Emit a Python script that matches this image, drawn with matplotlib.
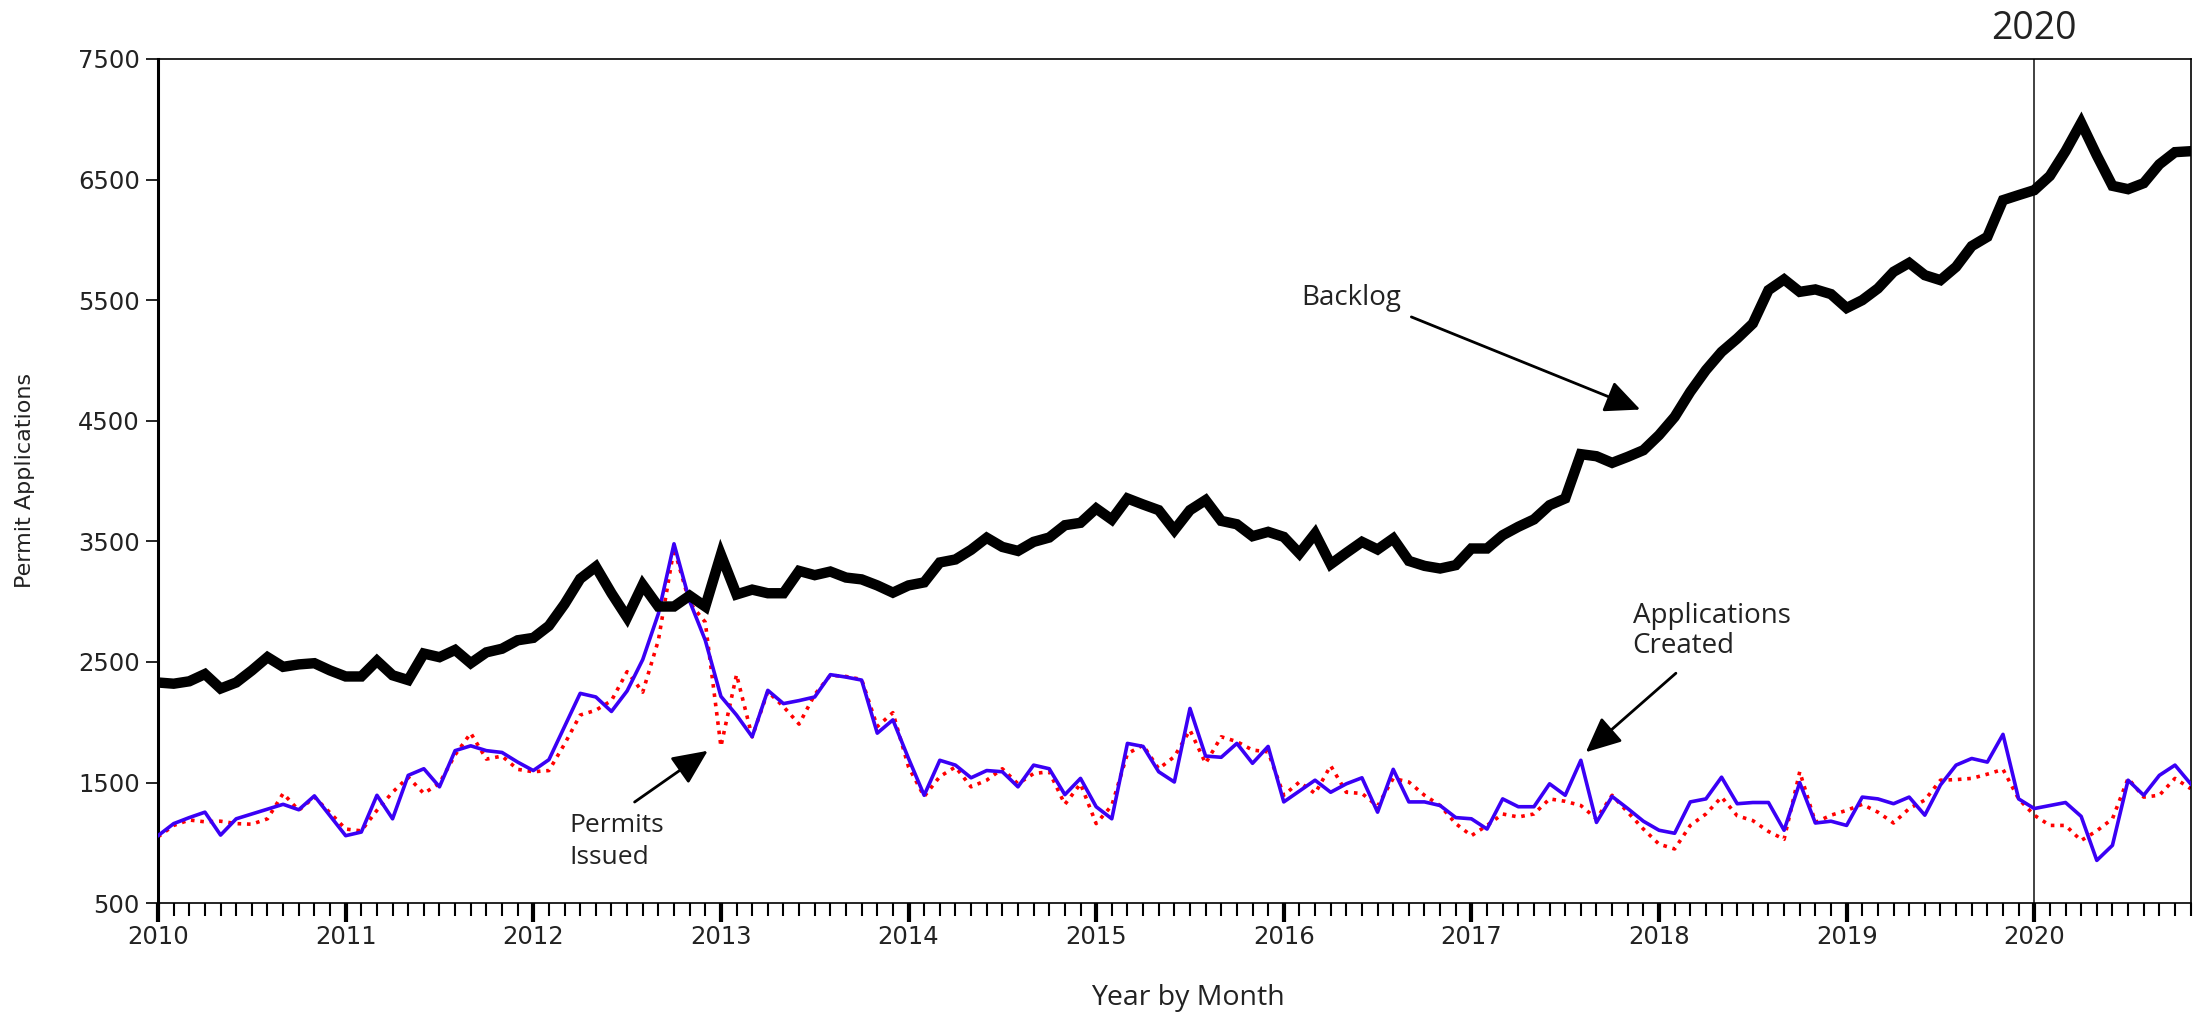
import numpy as np
import matplotlib
matplotlib.use("Agg")
import matplotlib.pyplot as plt
from matplotlib.ticker import MultipleLocator

# monthly values, Jan 2010 .. Nov 2020
backlog = [2330, 2320, 2340, 2400, 2280, 2330, 2430, 2540, 2460, 2480, 2490, 2430,
           2380, 2380, 2510, 2390, 2350, 2570, 2540, 2600, 2490, 2580, 2610, 2680,
           2700, 2800, 2980, 3190, 3290, 3070, 2870, 3140, 2960, 2960, 3050, 2960,
           3390, 3060, 3100, 3070, 3070, 3255, 3220, 3250, 3200, 3185, 3135, 3075,
           3135, 3160, 3325, 3350, 3430, 3530, 3454, 3421, 3496, 3532, 3634, 3654,
           3773, 3681, 3856, 3806, 3759, 3593, 3759, 3842, 3670, 3642, 3543, 3579,
           3537, 3400, 3565, 3311, 3405, 3496, 3433, 3524, 3338, 3297, 3275, 3303,
           3441, 3441, 3551, 3621, 3682, 3800, 3856, 4223, 4206, 4151, 4201, 4256,
           4381, 4532, 4740, 4920, 5071, 5182, 5306, 5583, 5672, 5569, 5589, 5550,
           5435, 5500, 5597, 5735, 5809, 5707, 5666, 5776, 5948, 6025, 6329, 6371,
           6412, 6530, 6735, 6970, 6700, 6448, 6420, 6470, 6626, 6727, 6735]

created = [1060, 1160, 1210, 1255, 1065, 1200, 1240, 1280, 1320, 1275, 1390, 1225,
           1060, 1090, 1395, 1200, 1560, 1615, 1465, 1765, 1805, 1765, 1750, 1670,
           1600, 1690, 1965, 2240, 2210, 2090, 2260, 2520, 2900, 3480, 3005, 2680,
           2215, 2060, 1880, 2265, 2155, 2180, 2210, 2395, 2375, 2350, 1910, 2020,
           1700, 1395, 1685, 1645, 1540, 1600, 1590, 1465, 1645, 1615, 1400, 1535,
           1300, 1200, 1825, 1800, 1590, 1505, 2115, 1720, 1710, 1825, 1660, 1800,
           1340, 1430, 1520, 1420, 1490, 1540, 1255, 1610, 1340, 1340, 1310, 1210,
           1200, 1115, 1365, 1300, 1300, 1490, 1395, 1685, 1170, 1385, 1285, 1180,
           1105, 1080, 1340, 1365, 1545, 1325, 1335, 1335, 1105, 1500, 1165, 1180,
           1145, 1380, 1365, 1325, 1380, 1230, 1480, 1645, 1700, 1670, 1900, 1365,
           1285, 1310, 1335, 1220, 855, 980, 1520, 1395, 1560, 1645, 1490]

issued = [1050, 1145, 1190, 1175, 1180, 1160, 1155, 1200, 1410, 1270, 1380, 1250,
          1115, 1100, 1270, 1420, 1545, 1410, 1495, 1730, 1910, 1695, 1720, 1610,
          1590, 1600, 1820, 2060, 2100, 2180, 2420, 2250, 2680, 3440, 2990, 2830,
          1800, 2395, 1880, 2255, 2130, 1985, 2230, 2390, 2380, 2355, 1965, 2080,
          1630, 1385, 1550, 1630, 1465, 1520, 1615, 1490, 1575, 1590, 1320, 1490,
          1160, 1310, 1740, 1810, 1615, 1715, 1935, 1660, 1880, 1840, 1770, 1755,
          1395, 1505, 1410, 1640, 1420, 1410, 1305, 1535, 1505, 1395, 1310, 1160,
          1060, 1145, 1240, 1215, 1240, 1365, 1345, 1310, 1200, 1395, 1255, 1115,
          990, 950, 1145, 1240, 1380, 1225, 1185, 1095, 1030, 1590, 1170, 1230,
          1270, 1320, 1255, 1165, 1285, 1355, 1520, 1525, 1535, 1570, 1610, 1365,
          1230, 1145, 1145, 1020, 1100, 1200, 1535, 1380, 1395, 1535, 1450]

years = list(range(2010, 2021))
yticks = [500, 1500, 2500, 3500, 4500, 5500, 6500, 7500]

t = 2010 + np.arange(len(backlog)) / 12.0

fig = plt.figure(figsize=(21.95, 10.16), dpi=100)
ax = fig.add_axes([0.072, 0.111, 0.926, 0.831])

ax.plot(t, issued, color='red', lw=2.6, ls=(0, (1, 1.6)), zorder=2)
ax.plot(t, created, color='#3a00f5', lw=2.6, zorder=3)
ax.plot(t, backlog, color='black', lw=7.5, solid_joinstyle='miter', zorder=4)

ax.axvline(2020, color='#333333', lw=1.3, zorder=1)

ax.set_xlim(2010, t[-1])
ax.set_ylim(500, 7500)
ax.set_yticks(yticks)
ax.set_xticks(years)
ax.set_xticklabels([str(y) for y in years])
ax.xaxis.set_minor_locator(MultipleLocator(1 / 12))

ax.tick_params(axis='y', direction='out', length=9, width=1.2, labelsize=17.5, pad=4)
ax.tick_params(axis='x', which='major', direction='out', length=14, width=3, labelsize=17.5, pad=2)
ax.tick_params(axis='x', which='minor', direction='out', length=9, width=1.5)

for lab in ax.get_xticklabels() + ax.get_yticklabels():
    lab.set_family('DejaVu Sans')
    lab.set_color('#222222')

ax.spines['left'].set_linewidth(2.2)
for s in ['top', 'right', 'bottom']:
    ax.spines[s].set_linewidth(1.2)

ax.text(2020, 1.036, '2020', transform=ax.get_xaxis_transform(), ha='center', va='center',
        fontsize=27, family='Open Sans', color='#222222')

arrow = dict(arrowstyle='-|>,head_length=1.2,head_width=0.55', mutation_scale=18,
             color='black', lw=2, shrinkA=0, shrinkB=0)

ax.text(2016.36, 5517, 'Backlog', ha='center', va='center', fontsize=20,
        family='Open Sans', color='#222222')
ax.annotate('', xy=(2017.90, 4593), xytext=(2016.68, 5361), arrowprops=arrow)

ax.text(2017.86, 2760, 'Applications\nCreated', ha='left', va='center', fontsize=20,
        family='Open Sans', color='#222222', linespacing=1.1)
ax.annotate('', xy=(2017.61, 1752), xytext=(2018.09, 2407), arrowprops=arrow)

ax.text(2012.19, 1010, 'Permits\nIssued', ha='left', va='center', fontsize=19,
        family='Open Sans', color='#222222', linespacing=1.35)
ax.annotate('', xy=(2012.93, 1764), xytext=(2012.54, 1339), arrowprops=arrow)

fig.text(0.0114, 0.527, 'Permit Applications', rotation=90, ha='center', va='center',
         fontsize=16, family=['Liberation Sans Narrow', 'DejaVu Sans'], color='#222222')
fig.text(0.541, 0.0177, 'Year by Month', ha='center', va='center', fontsize=20.5,
         family='Open Sans', color='#222222')

fig.savefig('out.png', dpi=100)
